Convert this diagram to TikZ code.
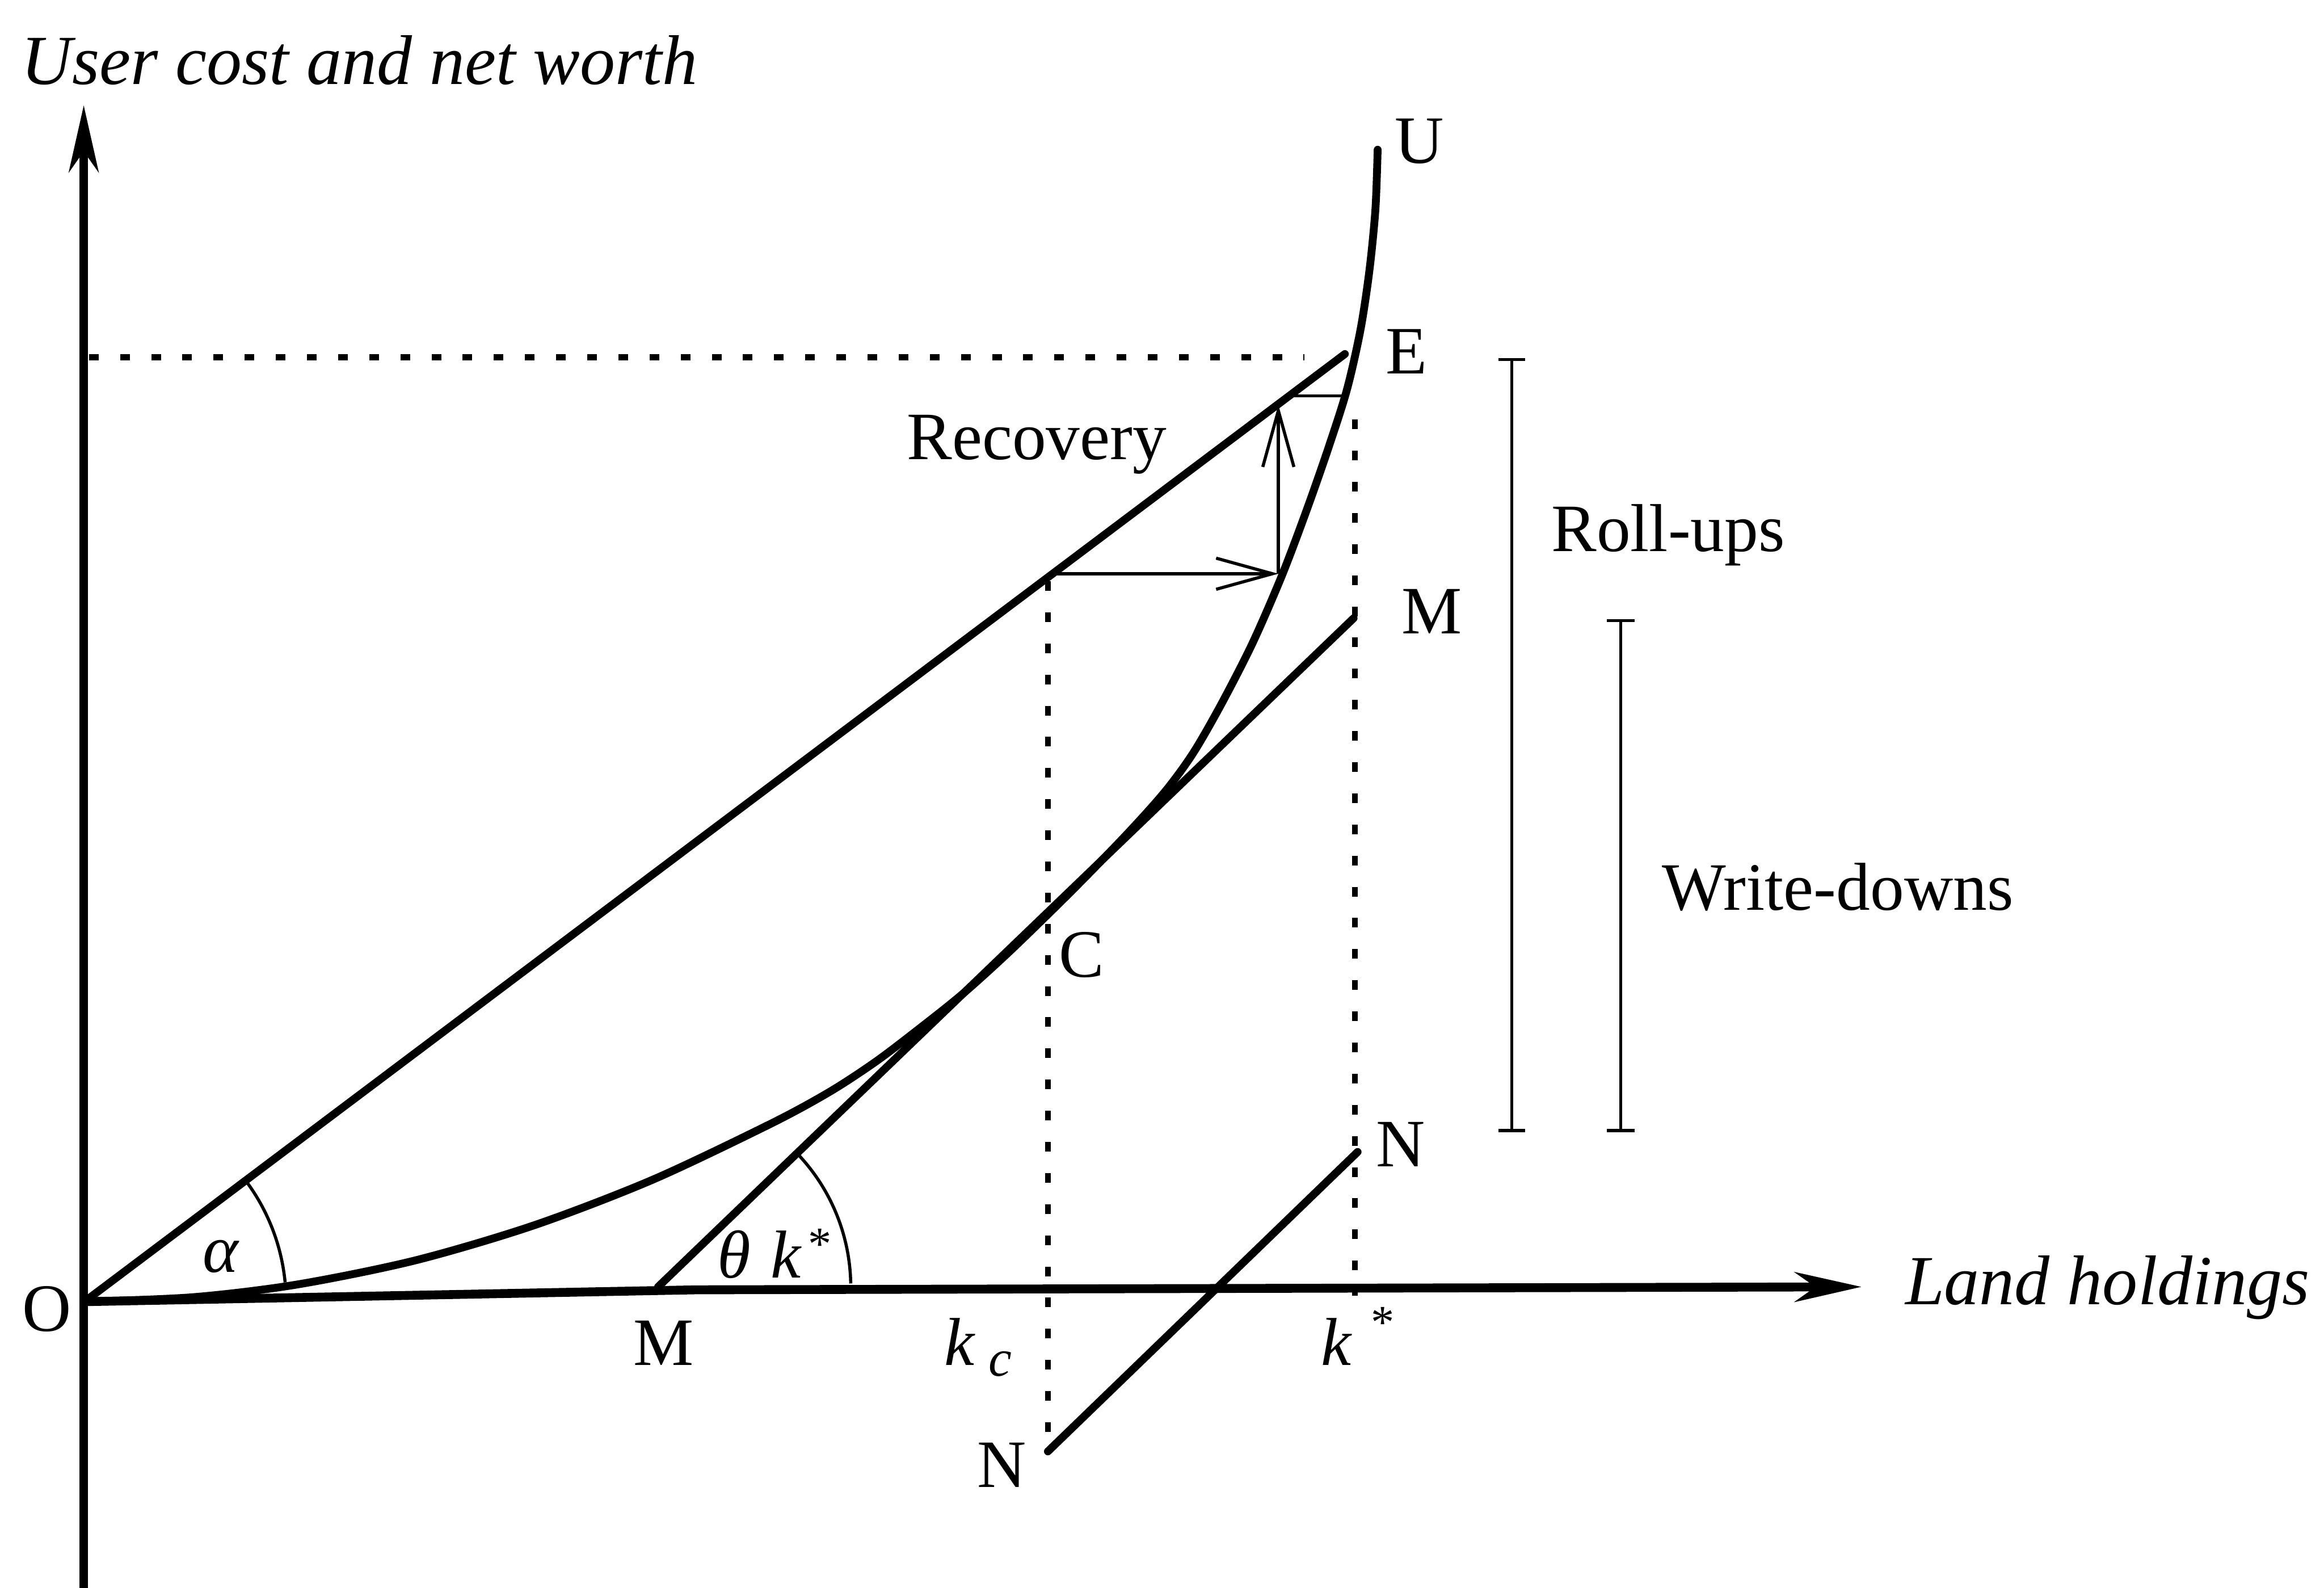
\documentclass[tikz,border=0pt]{standalone}
\usepackage{fontspec}
\setmainfont{Liberation Serif}
\usetikzlibrary{arrows.meta,calc}
\begin{document}
\begin{tikzpicture}[x=0.01cm,y=-0.01cm,
  axisline/.style={line width=1.7pt,-{Stealth[length=0.45cm,width=0.2cm,inset=0.14cm]}},
  heavy/.style={line width=1.5pt,line cap=round},
  dotline/.style={line width=1.1pt,dash pattern=on 0.065cm off 0.145cm},
  thinline/.style={line width=0.6pt},
  barb/.style={line width=0.6pt,-{Straight Barb[length=0.38cm,width=0.21cm]}},
  lbl/.style={font=\fontsize{13}{15}\selectfont,inner sep=0pt,anchor=base},
  ilbl/.style={font=\fontsize{13.5}{15}\selectfont\itshape,inner sep=0pt,anchor=base}]
\useasboundingbox (0,0) rectangle (1568,1071);

% key points
\coordinate (O) at (57,878);
\coordinate (ybot) at (56.5,1071);
\coordinate (ytop) at (56.5,71);
\coordinate (xbend) at (470,870);
\coordinate (xtip) at (1256,868);
\coordinate (Eend) at (907.4,238.8);
\coordinate (M1) at (444,868);
\coordinate (M2) at (913.3,417);
\coordinate (N1) at (707,979);
\coordinate (N2) at (916,777);
\coordinate (R1) at (710,387);
\coordinate (R2) at (862.5,387);
\coordinate (R3) at (862.5,273);
\coordinate (R4) at (869,267);
\coordinate (R5) at (909,267);
\coordinate (H1) at (60,241);
\coordinate (H2) at (880,241);
\coordinate (Va1) at (707,392);
\coordinate (Va2) at (707,968);
\coordinate (Vb1) at (914,283);
\coordinate (Vb2) at (914,874);
\coordinate (RUt) at (1020,242.5);
\coordinate (RUb) at (1020,762.5);
\coordinate (WDt) at (1093.5,418.6);
\coordinate (WDb) at (1093.5,762.5);

% axes
\draw[axisline] (ybot) -- (ytop);
\draw[axisline] (O) -- (xbend) -- (xtip);

% dotted guides
\draw[dotline] (H1) -- (H2);
\draw[dotline] (Va1) -- (Va2);
\draw[dotline] (Vb1) -- (Vb2);

% straight lines
\draw[heavy] (O) -- (Eend);
\draw[heavy] (M1) -- (M2);
\draw[heavy] (N1) -- (N2);

% curve OU
\draw[heavy] plot[smooth,tension=0.5] coordinates {
 (57,878) (130,875) (200,866.5) (280,850.2) (360,826.6) (440,795.9)
 (520,758) (560,736.3) (591,716) (620,694) (650,670) (682,641) (723,601)
 (760,563) (786,534) (805,508) (824,475) (845,434) (865,388) (882,343)
 (897,300) (909,262) (918,222) (924,182) (928,141) (929.5,101)};

% recovery arrows
\draw[barb] (R1) -- (R2);
\draw[barb] (R2) -- (R3);
\draw[thinline] (R4) -- (R5);

% angle arcs
\draw[thinline] (O) ++(-36.9:136) arc[start angle=-36.9,end angle=-5.5,radius=136];
\draw[thinline] (M1) ++(-43.8:130) arc[start angle=-43.8,end angle=-1,radius=130];

% brackets
\draw[thinline] (RUt) -- (RUb);
\draw[thinline] ($(RUt)+(-9,0)$) -- ($(RUt)+(9,0)$);
\draw[thinline] ($(RUb)+(-9,0)$) -- ($(RUb)+(9,0)$);
\draw[thinline] (WDt) -- (WDb);
\draw[thinline] ($(WDt)+(-9.5,0)$) -- ($(WDt)+(9.5,0)$);
\draw[thinline] ($(WDb)+(-9.5,0)$) -- ($(WDb)+(9.5,0)$);

% labels
\node[ilbl] (ylab) at (242.5,57) {User cost and net worth};
\node[ilbl] (xlab) at (1422,880) {Land holdings};
\node[lbl] (lU) at (957.7,110) {U};
\node[lbl] (lE) at (949,252) {E};
\node[lbl] (lMt) at (966,427.6) {M};
\node[lbl] (lNt) at (945,787) {N};
\node[lbl] (lNb) at (676,1003) {N};
\node[lbl] (lMb) at (447.6,921) {M};
\node[lbl] (lO) at (31.8,898) {O};
\node[lbl] (lC) at (729.6,659) {C};
\node[lbl] (lrec) at (699.5,310) {Recovery};
\node[lbl] (lroll) at (1125.5,372) {Roll-ups};
\node[lbl] (lwrite) at (1240,614) {Write-downs};
\node[lbl,font=\fontsize{13}{15}\selectfont\itshape] (lalpha) at (149,858) {α};
\node[lbl,anchor=base west,font=\fontsize{13}{15}\selectfont\itshape] (ltheta) at (483.5,862)
  {θ\hspace{3.8pt}k\hspace{1pt}\raisebox{3.5pt}{\fontsize{9}{9}\selectfont *}};
\node[lbl,anchor=base west,font=\fontsize{13}{15}\selectfont\itshape] (lkc) at (636.4,921)
  {k\hspace{2.8pt}\raisebox{-2pt}{\fontsize{10}{10}\selectfont c}};
\node[lbl,anchor=base west,font=\fontsize{13}{15}\selectfont\itshape] (lks) at (890.7,921)
  {k\hspace{3.4pt}\raisebox{5.3pt}{\fontsize{9}{9}\selectfont *}};
\end{tikzpicture}
\end{document}
